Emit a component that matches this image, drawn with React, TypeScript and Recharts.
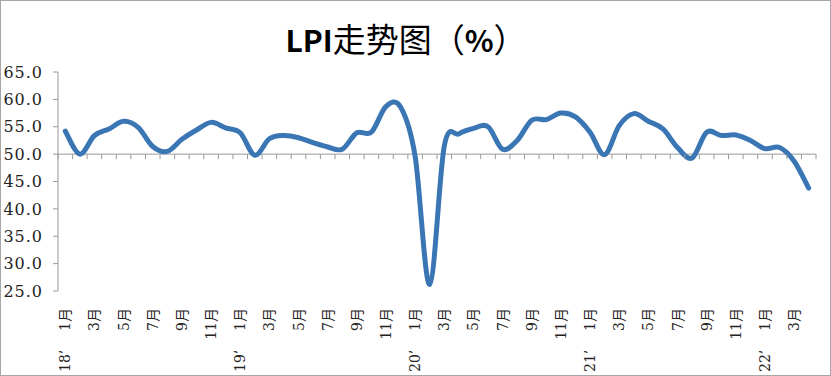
import React from 'react';
import { LineChart, Line, XAxis, YAxis, ReferenceLine } from 'recharts';

const W = 831;
const H = 376;
const PLOT_LEFT = 58;
const PLOT_TOP = 72;
const PLOT_RIGHT = 816;
const PLOT_BOTTOM = 291;
const Y_MIN = 25;
const Y_MAX = 65;
const BASE = 50;
const Y_TICKS = [25, 30, 35, 40, 45, 50, 55, 60, 65];

const AXIS = '#9a9a9a';
const BLUE = '#3a76b4';

const YEAR_LABELS = ['18’', '19’', '20’', '21’', '22’'];
const MONTH_LABELS = ['1月', '', '3月', '', '5月', '', '7月', '', '9月', '', '11月', ''];

const LPI_2018 = [54.2, 50.0, 53.4, 54.6, 56.0, 54.9, 51.4, 50.5, 52.7, 54.4, 55.8, 54.8];
const LPI_2019 = [53.9, 49.8, 52.8, 53.4, 53.0, 52.1, 51.3, 50.9, 53.9, 54.0, 58.7, 58.6];
const LPI_2020 = [49.6, 26.2, 51.5, 53.7, 54.7, 55.0, 50.9, 52.5, 56.2, 56.3, 57.5, 56.8];
const LPI_2021 = [54.0, 49.9, 55.2, 57.4, 56.0, 54.6, 51.2, 49.3, 54.0, 53.4, 53.5, 52.5];
const LPI_2022 = [51.0, 51.2, 48.7, 43.8];

const LPI = [...LPI_2018, ...LPI_2019, ...LPI_2020, ...LPI_2021, ...LPI_2022];

const data = LPI.map((v, i) => ({
  key: `${2018 + Math.floor(i / 12)}-${(i % 12) + 1}`,
  month: MONTH_LABELS[i % 12],
  year: i % 12 === 0 ? YEAR_LABELS[i / 12] : '',
  lpi: v,
}));

const BAND = (PLOT_RIGHT - PLOT_LEFT) / data.length;
const Y_BASE = PLOT_TOP + ((PLOT_BOTTOM - PLOT_TOP) * (Y_MAX - BASE)) / (Y_MAX - Y_MIN);

// Excel-style smoothed line (Catmull-Rom through every point)
function excelCurve(context: any) {
  let pts: number[][] = [];
  return {
    areaStart() {},
    areaEnd() {},
    lineStart() { pts = []; },
    point(x: number, y: number) { pts.push([+x, +y]); },
    lineEnd() {
      const n = pts.length;
      if (!n) return;
      context.moveTo(pts[0][0], pts[0][1]);
      for (let i = 0; i < n - 1; i++) {
        const p0 = pts[i - 1] || pts[i];
        const p1 = pts[i];
        const p2 = pts[i + 1];
        const p3 = pts[i + 2] || p2;
        context.bezierCurveTo(
          p1[0] + (p2[0] - p0[0]) / 6, p1[1] + (p2[1] - p0[1]) / 6,
          p2[0] - (p3[0] - p1[0]) / 6, p2[1] - (p3[1] - p1[1]) / 6,
          p2[0], p2[1],
        );
      }
    },
  };
}

const LABEL_FONT = "'DejaVu Serif', 'Noto Sans CJK SC', serif";

function MonthTick(props: any) {
  const { x, index } = props;
  const d = data[index];
  const left = x - BAND / 2;
  const right = x + BAND / 2;
  return (
    <g>
      <line x1={left} x2={left} y1={Y_BASE} y2={Y_BASE + 5} stroke={AXIS} />
      {index === data.length - 1 && (
        <line x1={right} x2={right} y1={Y_BASE} y2={Y_BASE + 5} stroke={AXIS} />
      )}
      {d.month && (
        <text
          x={x} y={308} transform={`rotate(-90 ${x} 308)`}
          textAnchor="end" dominantBaseline="central"
          fontFamily={LABEL_FONT} fontSize={14} fill="#222"
        >{d.month}</text>
      )}
      {d.year && (
        <text
          x={x} y={372} transform={`rotate(-90 ${x} 372)`}
          textAnchor="start" dominantBaseline="central"
          fontFamily={LABEL_FONT} fontSize={14} fill="#222"
        >{d.year}</text>
      )}
    </g>
  );
}

export default function App() {
  return (
    <div style={{ position: 'relative', width: W, height: H, background: '#fff' }}>
      <style>{'body{margin:0}'}</style>
      <svg width={W} height={80} style={{ position: 'absolute', left: 0, top: 0 }}>
        <text x={406} y={52} textAnchor="middle" fontSize={33} fill="#000" fontFamily="'Noto Sans CJK SC', sans-serif">
          <tspan fontWeight="bold" fontSize={30}>LPI</tspan>
          <tspan>走势图（</tspan>
          <tspan fontWeight="bold" fontSize={30}>%</tspan>
          <tspan>）</tspan>
        </text>
      </svg>
      <div style={{ position: 'absolute', left: 0, top: 0 }}>
        <LineChart
          width={W} height={H} data={data}
          margin={{ top: PLOT_TOP, right: W - PLOT_RIGHT, bottom: 0, left: 0 }}
        >
          <XAxis
            dataKey="key" interval={0} height={H - PLOT_BOTTOM}
            axisLine={false} tickLine={false} tick={<MonthTick />}
            padding={{ left: BAND / 2, right: BAND / 2 }}
          />
          <YAxis
            width={PLOT_LEFT} domain={[Y_MIN, Y_MAX]} ticks={Y_TICKS} interval={0}
            tickFormatter={(v: number) => v.toFixed(1)}
            axisLine={{ stroke: AXIS }} tickLine={{ stroke: AXIS }} tickSize={5} tickMargin={10}
            tick={{ fontSize: 16, fill: '#222', fontFamily: "'DejaVu Serif', serif", letterSpacing: 1 }}
          />
          <ReferenceLine y={BASE} stroke={AXIS} />
          <Line
            dataKey="lpi" type={excelCurve as any} stroke={BLUE} strokeWidth={5}
            strokeLinecap="round" strokeLinejoin="round" dot={false} isAnimationActive={false}
          />
        </LineChart>
      </div>
      <div style={{ position: 'absolute', left: 0, top: 0, width: W, height: H, boxSizing: 'border-box', border: '1px solid #a6a6a6', pointerEvents: 'none' }} />
    </div>
  );
}
